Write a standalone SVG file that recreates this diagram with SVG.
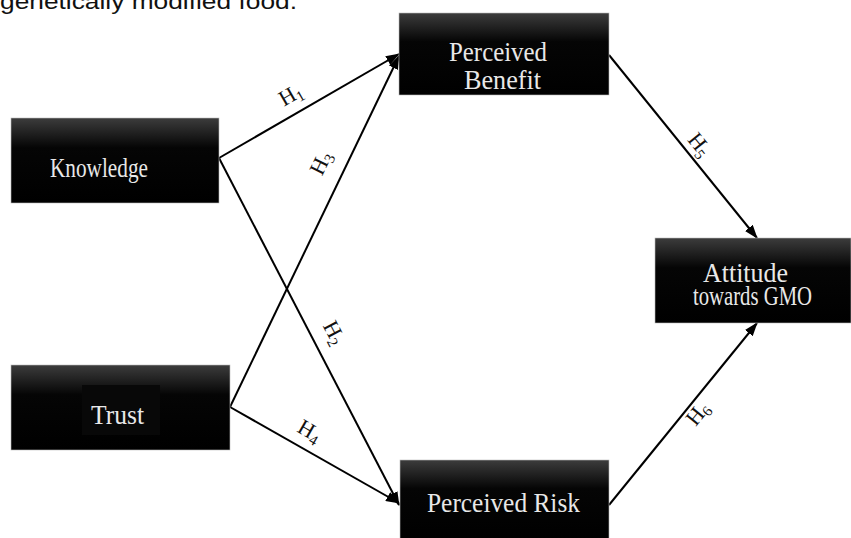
<svg xmlns="http://www.w3.org/2000/svg" width="851" height="538" viewBox="0 0 851 538">
<defs>
<linearGradient id="g" x1="0" y1="0" x2="0" y2="1">
<stop offset="0" stop-color="#3c3c3c"/>
<stop offset="0.35" stop-color="#050505"/>
<stop offset="1" stop-color="#000"/>
</linearGradient>
<marker id="arr" markerUnits="userSpaceOnUse" markerWidth="14" markerHeight="10" refX="13" refY="5" orient="auto">
<path d="M0,0 L14,5 L0,10 Z" fill="#000"/>
</marker>
<style>
.box{fill:url(#g);stroke:#bbb;stroke-width:0.6}
.lbl{font-family:"Liberation Serif",serif;font-size:28px;fill:#e8e8e8}
.h{font-family:"Liberation Serif",serif;font-size:22px;fill:#111}
.sub{font-size:15px}
.c{stroke:#000;stroke-width:2;fill:none;marker-end:url(#arr)}
</style>
</defs>
<rect width="851" height="538" fill="#fff"/>
<text x="0" y="9" font-family="Liberation Sans,Arial,sans-serif" font-size="22" fill="#111" textLength="297" lengthAdjust="spacingAndGlyphs">genetically modified food.</text>

<g id="connectors">
<line class="c" x1="219" y1="158" x2="399" y2="54"/>
<line class="c" x1="219" y1="158" x2="399" y2="505"/>
<line class="c" x1="230" y1="407" x2="399" y2="56"/>
<line class="c" x1="230" y1="407" x2="399" y2="503"/>
<line class="c" x1="609" y1="55" x2="757" y2="238"/>
<line class="c" x1="609" y1="505" x2="757" y2="323"/>
<text class="h" transform="translate(294,101) rotate(-30)" text-anchor="middle">H<tspan class="sub" dy="4">1</tspan></text>
<text class="h" transform="translate(327,166) rotate(-64)" text-anchor="middle">H<tspan class="sub" dy="4">3</tspan></text>
<text class="h" transform="translate(328,336) rotate(62)" text-anchor="middle">H<tspan class="sub" dy="4">2</tspan></text>
<text class="h" transform="translate(306,437) rotate(30)" text-anchor="middle">H<tspan class="sub" dy="4">4</tspan></text>
<text class="h" transform="translate(694,149) rotate(51)" text-anchor="middle">H<tspan class="sub" dy="4">5</tspan></text>
<text class="h" transform="translate(703,418) rotate(-51)" text-anchor="middle">H<tspan class="sub" dy="4">6</tspan></text>
</g>

<g id="perceived-benefit">
<rect class="box" x="399" y="13" width="210" height="82"/>
<text class="lbl" x="449" y="61" textLength="98" lengthAdjust="spacingAndGlyphs">Perceived</text>
<text class="lbl" x="464" y="89" textLength="77" lengthAdjust="spacingAndGlyphs">Benefit</text>
</g>
<g id="knowledge">
<rect class="box" x="11" y="118" width="208" height="85"/>
<text class="lbl" x="50" y="177" textLength="98" lengthAdjust="spacingAndGlyphs">Knowledge</text>
</g>
<g id="trust">
<rect class="box" x="11" y="365" width="219" height="85"/>
<rect x="82" y="385" width="78" height="50" fill="#080808"/>
<text class="lbl" x="91" y="424" textLength="53" lengthAdjust="spacingAndGlyphs">Trust</text>
</g>
<g id="perceived-risk">
<rect class="box" x="400" y="460" width="209" height="82"/>
<text class="lbl" x="427" y="512" textLength="153" lengthAdjust="spacingAndGlyphs">Perceived Risk</text>
</g>
<g id="attitude">
<rect class="box" x="655" y="238" width="196" height="85"/>
<text class="lbl" x="703" y="282" textLength="85" lengthAdjust="spacingAndGlyphs">Attitude</text>
<text class="lbl" x="693" y="305" textLength="119" lengthAdjust="spacingAndGlyphs">towards GMO</text>
</g>
</svg>
